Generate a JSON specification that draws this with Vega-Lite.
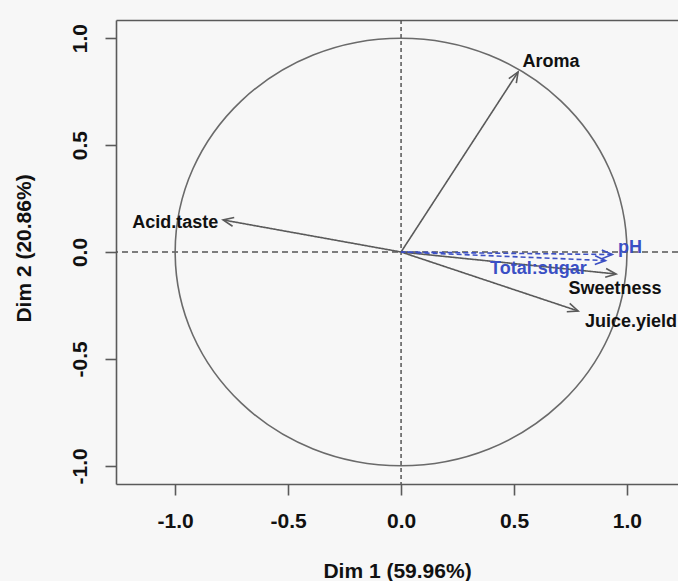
{
  "$schema": "https://vega.github.io/schema/vega-lite/v6.json",
  "width": 562,
  "height": 464,
  "autosize": {"type": "none"},
  "padding": {"left": 116, "top": 20, "right": 0, "bottom": 97},
  "background": "#f7f7f7",
  "config": {
    "view": {"stroke": null},
    "font": "Liberation Sans",
    "axis": {
      "grid": false,
      "domainColor": "#5a5a5a",
      "domainWidth": 1.6,
      "tickColor": "#5a5a5a",
      "tickWidth": 1.6,
      "tickSize": 11,
      "labelFont": "Liberation Sans",
      "labelFontWeight": "bold",
      "labelFontSize": 21,
      "labelColor": "#111111",
      "titleFont": "Liberation Sans",
      "titleFontWeight": "bold",
      "titleFontSize": 21,
      "titleColor": "#111111"
    }
  },
  "data": {
    "values": [
      {"name": "Aroma", "x": 0.518, "y": 0.842, "lx": 0.664, "ly": 0.889, "type": "active"},
      {"name": "Acid.taste", "x": -0.788, "y": 0.15, "lx": -1.0, "ly": 0.137, "type": "active"},
      {"name": "Juice.yield", "x": 0.784, "y": -0.276, "lx": 1.018, "ly": -0.327, "type": "active"},
      {"name": "Sweetness", "x": 0.952, "y": -0.103, "lx": 0.947, "ly": -0.173, "type": "active"},
      {"name": "pH", "x": 0.935, "y": -0.012, "lx": 1.013, "ly": 0.019, "type": "supplementary"},
      {"name": "Total:sugar", "x": 0.905, "y": -0.04, "lx": 0.608, "ly": -0.08, "type": "supplementary"}
    ]
  },
  "resolve": {
    "axis": {"x": "independent", "y": "independent"},
    "scale": {"color": "independent", "strokeDash": "independent"}
  },
  "layer": [
    {
      "data": {"values": [{}]},
      "mark": {"type": "rule", "color": "#555555", "strokeWidth": 1.5, "strokeDash": [6, 4]},
      "encoding": {
        "y": {"datum": 0, "type": "quantitative", "scale": {"domain": [-1.085, 1.085], "nice": false, "zero": false}, "axis": null}
      }
    },
    {
      "data": {"values": [{}]},
      "mark": {"type": "rule", "color": "#555555", "strokeWidth": 1.5, "strokeDash": [4, 3]},
      "encoding": {
        "x": {"datum": 0, "type": "quantitative", "scale": {"domain": [-1.262, 1.226], "nice": false, "zero": false}, "axis": null}
      }
    },
    {
      "data": {"values": [{}]},
      "mark": {
        "type": "point",
        "shape": "M -1 0 A 1 0.9464 0 1 1 1 0 A 1 0.9464 0 1 1 -1 0 Z",
        "size": 204120,
        "filled": false,
        "color": "#6a6a6a",
        "strokeWidth": 1.6,
        "opacity": 1
      },
      "encoding": {
        "x": {"datum": 0, "type": "quantitative", "scale": {"domain": [-1.262, 1.226], "nice": false, "zero": false},
          "axis": {"orient": "top", "labels": false, "ticks": false, "domain": true, "title": null}},
        "y": {"datum": 0, "type": "quantitative", "scale": {"domain": [-1.085, 1.085], "nice": false, "zero": false}, "axis": null}
      }
    },
    {
      "mark": {"type": "rule", "strokeWidth": 1.6},
      "encoding": {
        "x": {"field": "x", "type": "quantitative", "scale": {"domain": [-1.262, 1.226], "nice": false, "zero": false},
          "axis": {
            "orient": "bottom",
            "values": [-1, -0.5, 0, 0.5, 1],
            "labelExpr": "datum.value < 0 ? '-' + format(-datum.value, '.1f') : format(datum.value, '.1f')",
            "labelPadding": 15,
            "labelFlush": false,
            "title": "Dim 1 (59.96%)",
            "titleBaseline": "alphabetic",
            "titleY": 93
          }},
        "y": {"field": "y", "type": "quantitative", "scale": {"domain": [-1.085, 1.085], "nice": false, "zero": false},
          "axis": {
            "orient": "left",
            "values": [-1, -0.5, 0, 0.5, 1],
            "labelExpr": "datum.value < 0 ? '-' + format(-datum.value, '.1f') : format(datum.value, '.1f')",
            "labelAngle": 270,
            "labelAlign": "center",
            "labelBaseline": "alphabetic",
            "labelPadding": 19,
            "labelFlush": false,
            "title": "Dim 2 (20.86%)",
            "titleAngle": 270,
            "titleAlign": "center",
            "titleBaseline": "alphabetic",
            "titleX": -86,
            "titleY": 228
          }},
        "x2": {"datum": 0},
        "y2": {"datum": 0},
        "color": {"field": "type", "type": "nominal", "scale": {"domain": ["active", "supplementary"], "range": ["#5a5a5a", "#3d50c4"]}, "legend": null},
        "strokeDash": {"field": "type", "type": "nominal", "scale": {"domain": ["active", "supplementary"], "range": [[1, 0], [5, 3]]}, "legend": null}
      }
    },
    {
      "transform": [{"calculate": "-atan2(datum.y, datum.x) * 180 / PI", "as": "ang"}],
      "mark": {
        "type": "point",
        "shape": "M -1 -0.42 L 0 0 L -1 0.42",
        "size": 441,
        "filled": false,
        "strokeWidth": 1.6,
        "opacity": 1
      },
      "encoding": {
        "x": {"field": "x", "type": "quantitative", "scale": {"domain": [-1.262, 1.226], "nice": false, "zero": false}, "axis": null},
        "y": {"field": "y", "type": "quantitative", "scale": {"domain": [-1.085, 1.085], "nice": false, "zero": false}, "axis": null},
        "angle": {"field": "ang", "type": "quantitative", "scale": null},
        "color": {"field": "type", "type": "nominal", "scale": {"domain": ["active", "supplementary"], "range": ["#5a5a5a", "#3d50c4"]}, "legend": null}
      }
    },
    {
      "mark": {"type": "text", "font": "Liberation Sans", "fontWeight": "bold", "fontSize": 18, "align": "center", "baseline": "middle"},
      "encoding": {
        "x": {"field": "lx", "type": "quantitative", "scale": {"domain": [-1.262, 1.226], "nice": false, "zero": false}, "axis": null},
        "y": {"field": "ly", "type": "quantitative", "scale": {"domain": [-1.085, 1.085], "nice": false, "zero": false}, "axis": null},
        "text": {"field": "name", "type": "nominal"},
        "color": {"field": "type", "type": "nominal", "scale": {"domain": ["active", "supplementary"], "range": ["#111111", "#3a4fc4"]}, "legend": null}
      }
    }
  ]
}
